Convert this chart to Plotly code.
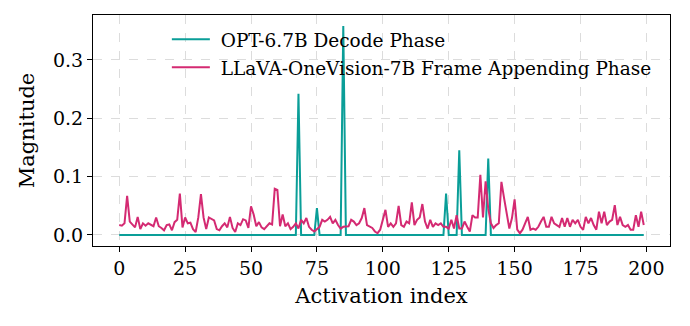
import plotly.graph_objects as go

# Activation indices 0..199
activation_index = list(range(200))

# OPT-6.7B decode phase: near-zero except a few outlier channels
opt_decode = [0.0] * 200
opt_outliers = {68: 0.242, 75: 0.046, 85: 0.358, 124: 0.071, 129: 0.145, 140: 0.131}
for idx, val in opt_outliers.items():
    opt_decode[idx] = val

# LLaVA-OneVision-7B frame appending phase
llava_frame = [
    0.017, 0.016, 0.020, 0.067, 0.023, 0.018, 0.013, 0.031, 0.010, 0.020,
    0.016, 0.020, 0.017, 0.015, 0.030, 0.015, 0.012, 0.008, 0.017, 0.018,
    0.008, 0.022, 0.026, 0.071, 0.013, 0.030, 0.020, 0.021, 0.010, 0.005,
    0.030, 0.070, 0.030, 0.010, 0.030, 0.028, 0.025, 0.010, 0.008, 0.015,
    0.020, 0.013, 0.031, 0.012, 0.005, 0.020, 0.017, 0.027, 0.025, 0.012,
    0.049, 0.035, 0.015, 0.022, 0.013, 0.010, 0.016, 0.020, 0.018, 0.079,
    0.077, 0.015, 0.035, 0.015, 0.020, 0.010, 0.014, 0.020, 0.011, 0.026,
    0.020, 0.029, 0.014, 0.009, 0.006, 0.010, 0.014, 0.026, 0.023, 0.026,
    0.031, 0.020, 0.026, 0.017, 0.011, 0.014, 0.014, 0.015, 0.026, 0.023,
    0.017, 0.020, 0.029, 0.046, 0.017, 0.014, 0.012, 0.006, 0.003, 0.009,
    0.028, 0.043, 0.014, 0.020, 0.014, 0.020, 0.050, 0.017, 0.014, 0.023,
    0.020, 0.056, 0.017, 0.026, 0.030, 0.053, 0.023, 0.011, 0.026, 0.014,
    0.020, 0.017, 0.020, 0.014, 0.014, 0.011, 0.026, 0.011, 0.034, 0.011,
    0.011, 0.023, 0.014, 0.006, 0.034, 0.030, 0.030, 0.103, 0.030, 0.092,
    0.045, 0.020, 0.012, 0.017, 0.020, 0.091, 0.063, 0.034, 0.011, 0.029,
    0.061, 0.009, 0.003, 0.009, 0.020, 0.031, 0.009, 0.011, 0.009, 0.014,
    0.023, 0.031, 0.014, 0.014, 0.031, 0.020, 0.017, 0.014, 0.029, 0.014,
    0.029, 0.014, 0.026, 0.020, 0.026, 0.014, 0.009, 0.031, 0.020, 0.029,
    0.017, 0.009, 0.040, 0.020, 0.040, 0.017, 0.023, 0.026, 0.051, 0.017,
    0.031, 0.017, 0.014, 0.017, 0.009, 0.009, 0.034, 0.014, 0.040, 0.017,
]

x_ticks = [0, 25, 50, 75, 100, 125, 150, 175, 200]
y_ticks = [0.0, 0.1, 0.2, 0.3]

TEAL = "#0a9e98"
PINK = "#d42a72"
FONT = "DejaVu Serif"

fig = go.Figure()
fig.add_trace(go.Scatter(
    x=activation_index, y=opt_decode, mode="lines",
    name="\u00a0OPT-6.7B Decode Phase", legendgroup="opt",
    line=dict(color=TEAL, width=2),
))
fig.add_trace(go.Scatter(
    x=activation_index, y=llava_frame, mode="lines",
    name="\u00a0LLaVA-OneVision-7B Frame Appending Phase", legendgroup="llava",
    line=dict(color=PINK, width=2),
))

axis_common = dict(
    showline=True, linecolor="black", linewidth=1.2, mirror=True,
    ticks="outside", ticklen=5, tickwidth=1.2, tickcolor="black",
    showgrid=True, gridcolor="#dcdcdc", gridwidth=1, griddash="dash",
    zeroline=False,
    tickfont=dict(family=FONT, size=19, color="black"),
)

fig.update_layout(
    width=690, height=326,
    margin=dict(l=93, r=20, t=15, b=80),
    paper_bgcolor="white", plot_bgcolor="white",
    font=dict(family=FONT, color="black"),
    showlegend=True,
    legend=dict(
        x=0.128, y=0.975, xanchor="left", yanchor="top",
        bgcolor="rgba(255,255,255,0)", borderwidth=0,
        font=dict(family=FONT, size=18.5, color="black"),
        itemwidth=38, tracegroupgap=1, traceorder="grouped",
    ),
    xaxis=dict(
        range=[-9.95, 208.95], tickvals=x_ticks,
        title=dict(text="Activation index", font=dict(family=FONT, size=21), standoff=10),
        **axis_common,
    ),
    yaxis=dict(
        range=[-0.0189, 0.3769], tickvals=y_ticks, tickformat=".1f",
        title=dict(text="Magnitude", font=dict(family=FONT, size=21), standoff=12),
        **axis_common,
    ),
)

fig.write_html("out.html")
